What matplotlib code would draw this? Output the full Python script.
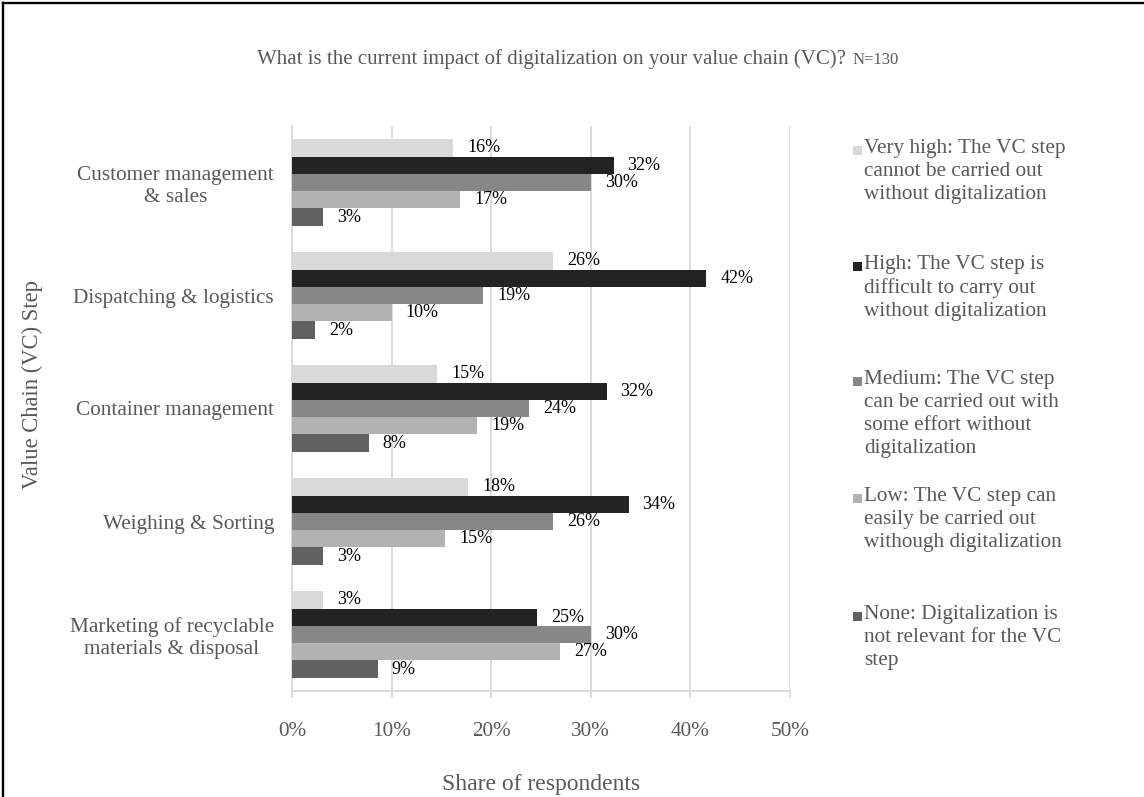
import matplotlib
matplotlib.use('Agg')
import matplotlib.pyplot as plt
import numpy as np
from matplotlib.patches import Rectangle
from matplotlib.lines import Line2D

plt.rcParams['font.family'] = ['Liberation Serif', 'DejaVu Serif']

steps = ['Customer management\n& sales', 'Dispatching & logistics',
         'Container management', 'Weighing & Sorting',
         'Marketing of recyclable\nmaterials & disposal']

levels = ['Very high: The VC step\ncannot be carried out\nwithout digitalization',
          'High: The VC step is\ndifficult to carry out\nwithout digitalization',
          'Medium: The VC step\ncan be carried out with\nsome effort without\ndigitalization',
          'Low: The VC step can\neasily be carried out\nwithough digitalization',
          'None: Digitalization is\nnot relevant for the VC\nstep']

# share of respondents in percent, one list per impact level
very_high = [16.2, 26.2, 14.6, 17.7, 3.1]
high = [32.3, 41.6, 31.6, 33.8, 24.6]
medium = [30.0, 19.2, 23.8, 26.2, 30.0]
low = [16.9, 10.0, 18.6, 15.4, 26.9]
none = [3.1, 2.3, 7.7, 3.1, 8.6]

series = [very_high, high, medium, low, none]
colors = ['#d9d9d9', '#232323', '#878787', '#b2b2b2', '#616161']

W, H = 1144, 797
GRAY = '#595959'
GRID = '#d9d9d9'

fig = plt.figure(figsize=(W / 100, H / 100), dpi=100)
ax = fig.add_axes([292 / W, 1 - 691 / H, 498 / W, 565 / H])

y = np.arange(len(steps))
bh = 0.153
for j, (vals, c) in enumerate(zip(series, colors)):
    bars = ax.barh(y + (j - 2) * bh, vals, height=bh, color=c, zorder=3)
    ax.bar_label(bars, labels=[f'{v:.0f}%' for v in vals], padding=10,
                 fontsize=13, color='black')

ax.set_ylim(len(steps) - 0.5, -0.5)
ax.set_xlim(0, 50)
ax.set_xticks(np.arange(0, 51, 10))
ax.set_xticklabels([f'{t}%' for t in range(0, 51, 10)])
ax.set_yticks(y)
ax.set_yticklabels(steps, multialignment='center')

ax.grid(axis='x', color=GRID, linewidth=1.3, zorder=0)
for s in ['top', 'right']:
    ax.spines[s].set_visible(False)
for s in ['left', 'bottom']:
    ax.spines[s].set_color(GRID)
    ax.spines[s].set_linewidth(1.3)
ax.tick_params(axis='x', colors=GRID, labelcolor=GRAY, labelsize=15.3,
               length=5, width=1.3, pad=17)
ax.tick_params(axis='y', length=0, labelcolor=GRAY, labelsize=15.3, pad=13)

ax.set_xlabel('Share of respondents', fontsize=17, color=GRAY, labelpad=24)
ax.set_ylabel('Value Chain (VC) Step', fontsize=16.3, color=GRAY)
ax.yaxis.set_label_coords(-0.50, 0.543)

# title with the sample size in a smaller face
title = fig.text(0.5, 1 - 64 / H, 'What is the current impact of digitalization '
                 'on your value chain (VC)?', fontsize=15, color=GRAY,
                 ha='left', va='baseline')
note = fig.text(0.5, 1 - 64 / H, 'N=130', fontsize=12, color=GRAY,
                ha='left', va='baseline')
fig.canvas.draw()
r = fig.canvas.get_renderer()
tw = title.get_window_extent(r).width
nw = note.get_window_extent(r).width
x0 = W / 2 - (tw + nw + 6) / 2 + 6
title.set_x(x0 / W)
note.set_x((x0 + tw + 6) / W)

# legend, one block of text per level
tops = [139, 255, 370, 487, 605]
for top, lab, c in zip(tops, levels, colors):
    fig.add_artist(Rectangle((853 / W, 1 - (top + 16) / H), 9 / W, 9 / H,
                             transform=fig.transFigure, color=c, lw=0))
    fig.text(864 / W, 1 - top / H, lab, fontsize=15.3, color=GRAY,
             ha='left', va='top', linespacing=1.28)

# chart frame
fig.add_artist(Line2D([3 / W, 3 / W], [0, 1 - 3 / H], transform=fig.transFigure,
                      color='black', linewidth=1.7))
fig.add_artist(Line2D([3 / W, 1143 / W], [1 - 3 / H, 1 - 3 / H],
                      transform=fig.transFigure, color='black', linewidth=1.7))

fig.savefig('out.png', dpi=100)
